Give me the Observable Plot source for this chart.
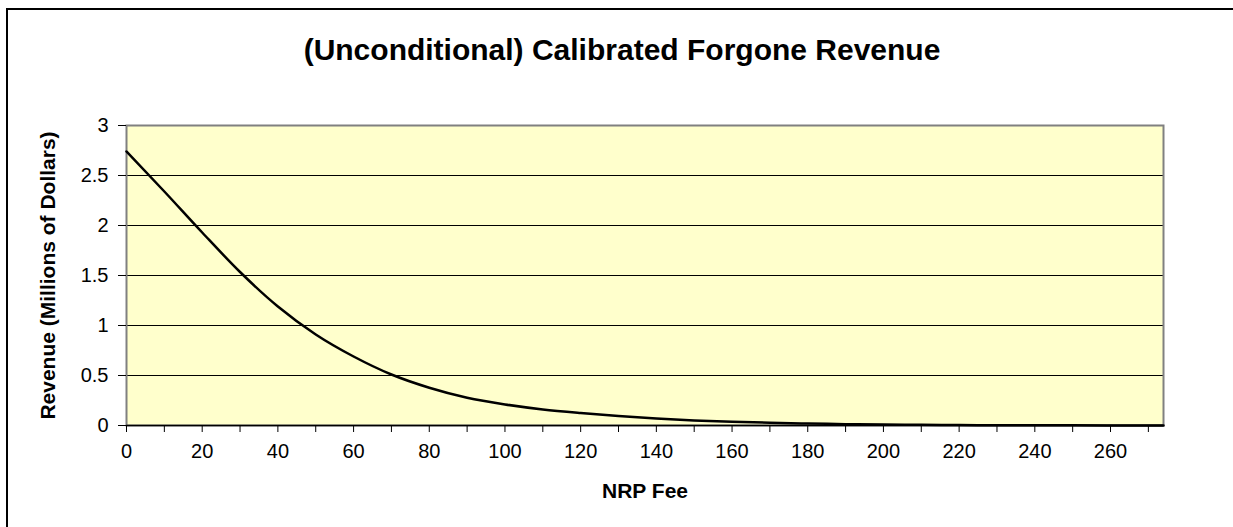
<!DOCTYPE html>
<html>
<head>
<meta charset="utf-8">
<script src="https://cdn.jsdelivr.net/npm/d3@7"></script>
<script src="https://cdn.jsdelivr.net/npm/@observablehq/plot@0.6"></script>
<style>
  html, body { margin: 0; padding: 0; background: #ffffff; overflow: hidden; }
  #wrap { position: relative; width: 1233px; height: 527px; }
  #border { position: absolute; left: 6px; top: 8px; width: 1400px; height: 700px;
            border-left: 2px solid #000; border-top: 2px solid #000; pointer-events: none; }
  #chart { position: absolute; left: 0; top: 0; }
</style>
</head>
<body>
<div id="wrap"><div id="chart"></div><div id="border"></div></div>
<script>
const title = "(Unconditional) Calibrated Forgone Revenue";
const xLabel = "NRP Fee";
const yLabel = "Revenue (Millions of Dollars)";

const fees = [0, 10, 20, 30, 40, 50, 60, 70, 80, 90, 100, 110, 120, 130, 140, 150, 160, 170, 180, 190, 200, 210, 220, 230, 240, 250, 260, 270, 274];
const revenue = [2.74, 2.34, 1.93, 1.535, 1.19, 0.91, 0.69, 0.51, 0.378, 0.278, 0.211, 0.161, 0.125, 0.095, 0.069, 0.050, 0.037, 0.028, 0.020, 0.0137, 0.0093, 0.0063, 0.0043, 0.003, 0.002, 0.0013, 0.0009, 0.0006, 0.0005];

const xTicks = [0, 10, 20, 30, 40, 50, 60, 70, 80, 90, 100, 110, 120, 130, 140, 150, 160, 170, 180, 190, 200, 210, 220, 230, 240, 250, 260, 270];
const xTickLabels = ["0", "", "20", "", "40", "", "60", "", "80", "", "100", "", "120", "", "140", "", "160", "", "180", "", "200", "", "220", "", "240", "", "260", ""];
const yTicks = [0, 0.5, 1, 1.5, 2, 2.5, 3];
const yTickLabels = ["0", "0.5", "1", "1.5", "2", "2.5", "3"];

const data = fees.map((f, i) => ({fee: f, revenue: revenue[i]}));
const font = "'Liberation Sans', Arial, sans-serif";

const chart = Plot.plot({
  width: 1233,
  height: 527,
  marginLeft: 126,
  marginRight: 70,
  marginTop: 125,
  marginBottom: 102,
  style: {fontFamily: font, fontSize: "20px", color: "#000", background: "transparent"},
  x: {domain: [0, 274]},
  y: {domain: [0, 3]},
  marks: [
    Plot.frame({fill: "#FFFFCC", stroke: null}),
    Plot.ruleY(yTicks.slice(1), {stroke: "#000", strokeWidth: 1}),
    Plot.frame({stroke: "#808080", strokeWidth: 2}),
    Plot.axisY({ticks: yTicks, tickFormat: (d) => yTickLabels[yTicks.indexOf(d)], tickSize: 8, tickPadding: 10, fontSize: 20, label: null, stroke: "#000"}),
    Plot.axisX({ticks: xTicks, tickFormat: (d) => xTickLabels[xTicks.indexOf(d)], tickSize: 7, tickPadding: 11, fontSize: 20, label: null, stroke: "#000"}),
    Plot.ruleY([0], {stroke: "#000", strokeWidth: 1.5}),
    Plot.line(data, {x: "fee", y: "revenue", stroke: "#000", strokeWidth: 2.5, curve: "monotone-x"}),
    Plot.text([title], {frameAnchor: "top", lineAnchor: "top", dy: -87, dx: -23, fontSize: 30, fontWeight: "bold", fill: "#000"}),
    Plot.text([xLabel], {frameAnchor: "bottom", lineAnchor: "top", dy: 58, fontSize: 21, fontWeight: "bold", fill: "#000"}),
    Plot.text([yLabel], {frameAnchor: "left", textAnchor: "middle", rotate: -90, dx: -78, fontSize: 21, fontWeight: "bold", fill: "#000"})
  ]
});
document.getElementById("chart").appendChild(chart);
</script>
</body>
</html>
